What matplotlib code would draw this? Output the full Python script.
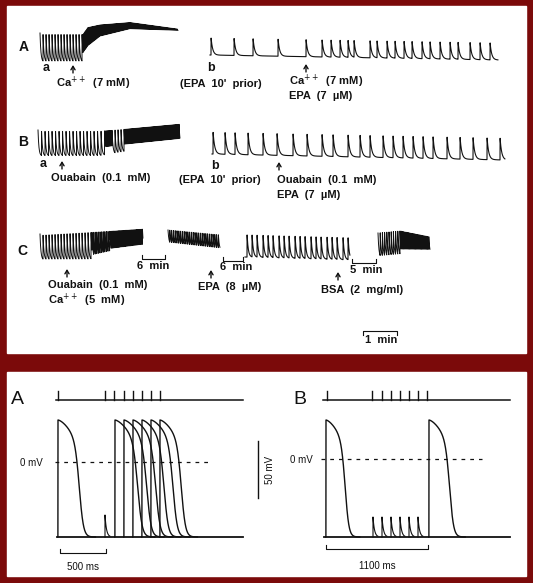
import numpy as np
import matplotlib
matplotlib.use("Agg")
import matplotlib.pyplot as plt

FONT = "Liberation Sans"
RED = "#7b0a0a"
INK = "#111111"

# ---- top panel: chart-recorder traces (pixel coords of the figure) ----
# beat times of the sparse traces
ab_beats = [211, 234, 253, 278, 306, 322, 331, 340, 348, 354, 370, 377, 387, 395,
            404, 412, 422, 430, 440, 450, 458, 470, 480, 490]
bb_beats = [213, 225, 235, 248, 263, 277, 293, 307, 322, 333, 348, 360, 370, 383,
            393, 403, 413, 423, 433, 447, 460, 473, 487, 500]

# dense traces: (x knots, baseline y, peak y, [(start, end, beat period)])
dense = {
    "Aa": ([40, 83, 88, 100, 130, 178], [62, 62, 55, 42, 32, 31],
           [33, 33, 26, 24, 22, 29], [(40, 83, 3.0), (83, 178, 1.0)]),
    "Ba": ([38, 100, 125, 180], [156, 156, 152, 146], [130, 130, 128, 123],
           [(38, 105, 3.5), (105, 112, 1.0), (112, 124, 3.0), (124, 180, 1.0)]),
    "C1": ([40, 90, 110, 143], [260, 260, 255, 250], [234, 231, 230, 228],
           [(40, 92, 3.0), (92, 110, 1.6), (110, 143, 1.2)]),
    "C2": ([168, 220], [244, 250], [230, 235], [(168, 220, 1.8)]),
    "C4": ([378, 400, 430], [258, 256, 254], [233, 231, 237],
           [(378, 400, 2.2), (400, 430, 1.2)]),
}
c3_beats = [247, 252, 257, 263, 268, 273, 279, 284, 289, 295, 300, 305, 311, 316,
            321, 327, 332, 337, 343, 348]

# ---- bottom panel: action potentials ----
stimA = [58, 105, 114, 124, 133, 142, 151, 160]
apA = [(58, 30), (115, 32), (124, 32), (133, 32), (142, 31), (151, 31), (160, 30)]
bumpA = [105]
stimB = [327, 372, 382, 391, 400, 409, 418, 427]
apB = [(326, 27), (429, 29)]
bumpB = [373, 382, 391, 400, 409, 418]


def sparse_trace(ax, x0, x1, beats, base0, base1, top, decay=1.6):
    xs = np.arange(x0, x1, 0.1)
    base = np.interp(xs, [x0, x1], [base0, base1])
    h = np.zeros_like(xs)
    for b in beats:
        m = xs >= b
        h[m] = np.maximum(h[m], (base0 - top) * np.exp(-(xs[m] - b) / decay))
    ax.plot(xs, base - h, color=INK, lw=0.8)


def dense_trace(ax, kx, kb, kt, runs, decay=0.9):
    xs = np.arange(kx[0], kx[-1], 0.05)
    base = np.interp(xs, kx, kb)
    top = np.interp(xs, kx, kt)
    beats = np.concatenate([np.arange(s, e, p) for s, e, p in runs])
    idx = np.searchsorted(beats, xs, side="right") - 1
    last = beats[np.clip(idx, 0, None)]
    frac = np.exp(-np.clip(xs - last, 0, None) / decay)
    ax.plot(xs, base - (base - top) * frac, color=INK, lw=0.7)


def ap_wave(t, dur):
    f = t / dur
    plateau = 1 - 0.35 * np.clip(f, 0, None) ** 1.5
    rep = 1 / (1 + np.exp((f - 0.72) / 0.07))
    return np.where(t < 0, 0, plateau * rep)


fig = plt.figure(figsize=(5.33, 5.83), dpi=100)
fig.patch.set_facecolor(RED)
ax = fig.add_axes([0, 0, 1, 1])
ax.set_xlim(0, 533)
ax.set_ylim(583, 0)
ax.axis("off")
ax.add_patch(plt.Rectangle((7, 6), 519, 347, color="white", zorder=0))
ax.add_patch(plt.Rectangle((7, 372), 519, 204, color="white", zorder=0))

def txt(x, y, s, size=8, **kw):
    ax.text(x, y, s, fontsize=size, fontfamily=FONT, fontweight="bold",
            color=INK, va="center", **kw)

def arrow(x, y):
    ax.annotate("", xy=(x, y - 5), xytext=(x, y + 3),
                arrowprops=dict(arrowstyle="->,head_width=0.15,head_length=0.25",
                                color=INK, lw=1.0, shrinkA=0, shrinkB=0))

def bracket(x0, x1, y, up=True):
    d = -4 if up else 4
    ax.plot([x0, x0, x1, x1], [y + d, y, y, y + d], color=INK, lw=0.8)

for k in ("Aa", "Ba", "C1", "C2", "C4"):
    dense_trace(ax, *dense[k])
sparse_trace(ax, 210, 498, ab_beats, 55, 60, 37)
sparse_trace(ax, 212, 505, bb_beats, 154, 160, 131)
sparse_trace(ax, 245, 350, c3_beats, 257, 260, 233, decay=1.2)

txt(19, 47, "A", 10)
txt(43, 68, "a", 9)
arrow(73, 70)
txt(56, 83, "Ca$^{++}$  (7 mM)")
txt(207, 68, "b", 9)
txt(180, 84, "(EPA  10'  prior)")
arrow(306, 69)
txt(289, 81, "Ca$^{++}$  (7 mM)")
txt(289, 96, "EPA  (7  µM)")

txt(18, 142, "B", 10)
txt(40, 164, "a", 9)
arrow(62, 166)
txt(51, 178, "Ouabain  (0.1  mM)")
txt(211, 166, "b", 9)
txt(179, 180, "(EPA  10'  prior)")
arrow(279, 167)
txt(277, 180, "Ouabain  (0.1  mM)")
txt(277, 195, "EPA  (7  µM)")

txt(17, 251, "C", 10)
arrow(67, 274)
txt(48, 285, "Ouabain  (0.1  mM)")
txt(48, 300, "Ca$^{++}$  (5  mM)")
bracket(142, 165, 259)
txt(137, 266, "6  min")
bracket(223, 243, 261)
txt(220, 267, "6  min")
arrow(211, 275)
txt(198, 287, "EPA  (8  µM)")
bracket(352, 376, 263)
txt(350, 270, "5  min")
arrow(338, 277)
txt(321, 290, "BSA  (2  mg/ml)")
bracket(363, 397, 331, up=False)
txt(365, 340, "1  min")

# bottom panel
base_y, amp = 537, 117
zero_y = 462
for stims, x0, x1 in ((stimA, 56, 243), (stimB, 323, 510)):
    ax.plot([x0, x1], [400, 400], color=INK, lw=1.1)
    for s in stims:
        ax.plot([s, s], [391, 400], color=INK, lw=1.0)

for aps, bumps, x0, x1 in ((apA, bumpA, 57, 243), (apB, bumpB, 324, 510)):
    ax.plot([x0, x1], [base_y, base_y], color=INK, lw=1.3)
    for s, dur in aps:
        t = np.arange(-0.2, dur * 1.25, 0.1)
        ax.plot(s + t, base_y - amp * ap_wave(t, dur), color=INK, lw=1.0)
    for b in bumps:
        t = np.arange(0, 5, 0.1)
        hgt = 22 if aps is apA else 20
        ax.plot([b, b] + list(b + t), [base_y, base_y - hgt] + list(base_y - hgt * np.exp(-t / 1.5)),
                color=INK, lw=0.8)

ax.plot([55, 212], [zero_y, zero_y], color=INK, lw=0.9, ls=(0, (3, 4)))
ax.plot([321, 482], [zero_y - 3, zero_y - 3], color=INK, lw=0.9, ls=(0, (3, 4)))
ax.text(20, 463, "0 mV", fontsize=7, fontfamily=FONT, color=INK, va="center")
ax.text(290, 460, "0 mV", fontsize=7, fontfamily=FONT, color=INK, va="center")
ax.plot([258, 258], [441, 498], color=INK, lw=1.0)
ax.text(270, 470, "50 mV", fontsize=7, fontfamily=FONT, color=INK, va="center",
        ha="center", rotation=90)
bracket(60, 106, 553)
ax.text(83, 567, "500 ms", fontsize=7, fontfamily=FONT, color=INK, ha="center", va="center")
bracket(326, 428, 549)
ax.text(377, 566, "1100 ms", fontsize=7, fontfamily=FONT, color=INK, ha="center", va="center")
ax.text(11, 399, "A", fontsize=14, fontfamily=FONT, color=INK, va="center")
ax.text(293, 399, "B", fontsize=14, fontfamily=FONT, color=INK, va="center")

fig.savefig("out.png", dpi=100, facecolor=RED)
